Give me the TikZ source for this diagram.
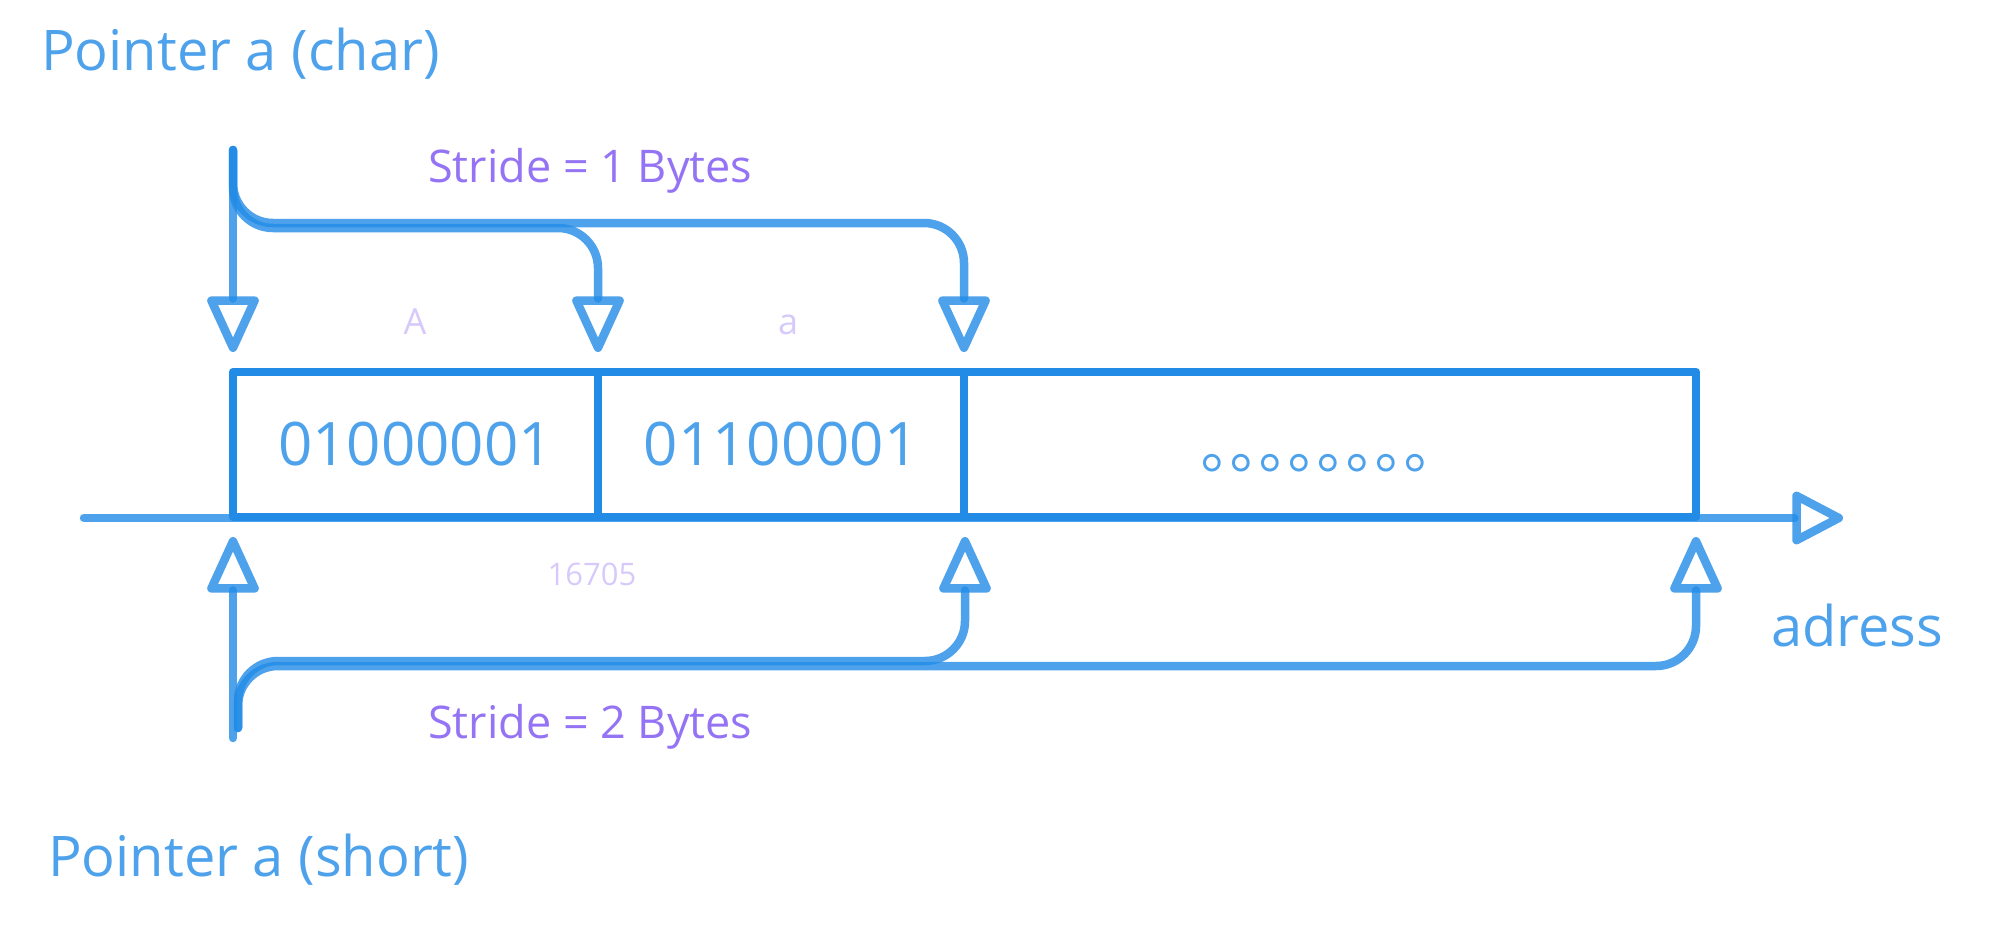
\documentclass[tikz,border=0pt]{standalone}
\usepackage{fontspec}
\setmainfont{Open Sans}
\newfontfamily\cjkfont{Noto Sans CJK SC}
\usetikzlibrary{arrows.meta, positioning}
\definecolor{strokeblue}{HTML}{228BE6}
\definecolor{violettext}{HTML}{7950F2}

\begin{document}
\begin{tikzpicture}[x=1pt,y=-1pt,
    cell/.style={draw=strokeblue, line width=8.5pt, line join=round, minimum height=145pt,
        inner sep=0pt, outer sep=0pt, text=strokeblue!80!white, font=\fontsize{60}{64}\selectfont},
    ptr/.style={draw=strokeblue, draw opacity=0.8, line width=8.5pt, line cap=round,
        rounded corners=40pt, -{Triangle[open,length=62pt,width=54pt,round]}},
    axisline/.style={ptr, -{Triangle[open,length=56pt,width=56pt,round]}},
    bigtext/.style={text=strokeblue!80!white, font=\fontsize{56}{60}\selectfont, inner sep=0pt},
    stridetext/.style={text=violettext!80!white, font=\fontsize{45}{50}\selectfont, inner sep=0pt},
    hint/.style={text=violettext!30!white, font=\fontsize{36}{40}\selectfont, inner sep=0pt},
    hintsmall/.style={text=violettext!30!white, font=\fontsize{31}{34}\selectfont, inner sep=0pt}]
    \useasboundingbox (0,0) rectangle (1996,926);

    % address axis
    \coordinate (axisstart) at (84,518);
    \coordinate (axisend) at (1843,518);
    \draw[axisline] (axisstart) -- (axisend);

    % memory cells
    \node[cell, minimum width=365pt] (cell1) at (415.5,444.5) {01000001};
    \node[cell, minimum width=366pt, right=0pt of cell1] (cell2) {01100001};
    \node[cell, minimum width=732pt, right=0pt of cell2] (cell3) {};
    \node[text=strokeblue!80!white, font=\cjkfont\fontsize{58}{60}\selectfont, inner sep=0pt]
        (rest) at (1317,463) {｡｡｡｡｡｡｡｡};

    \node[hint, anchor=base] (charA) at (415,334) {A};
    \node[hint, anchor=base] (chara) at (788,334) {a};
    \node[hintsmall, anchor=base] (value) at (592,585) {16705};

    % char pointer
    \coordinate (charstart) at (233,150);
    \coordinate (chartip0) at (233,352);
    \coordinate (chartip1) at (598,352);
    \coordinate (chartip2) at (964,352);
    \draw[ptr] (charstart) -- (chartip0);
    \draw[ptr] (charstart) |- (400,228) -| (chartip1);
    \draw[ptr] (charstart) |- (700,223) -| (chartip2);

    % short pointer
    \coordinate (shortstart) at (233,738);
    \coordinate (shortfoot) at (238,728);
    \coordinate (shorttip0) at (233,537);
    \coordinate (shorttip1) at (965,537);
    \coordinate (shorttip2) at (1696,537);
    \draw[ptr] (shortstart) -- (shorttip0);
    \draw[ptr] (shortfoot) |- (600,661) -| (shorttip1);
    \draw[ptr] (shortfoot) |- (1200,666) -| (shorttip2);

    \node[bigtext, anchor=base west] (charlabel) at (41,70) {Pointer a (char)};
    \node[bigtext, anchor=base west] (shortlabel) at (48,876) {Pointer a (short)};
    \node[stridetext, anchor=base west] (stride1) at (428,182) {Stride = 1 Bytes};
    \node[stridetext, anchor=base west] (stride2) at (428,738) {Stride = 2 Bytes};
    \node[bigtext, anchor=base west] (adress) at (1771,646) {adress};
\end{tikzpicture}
\end{document}
